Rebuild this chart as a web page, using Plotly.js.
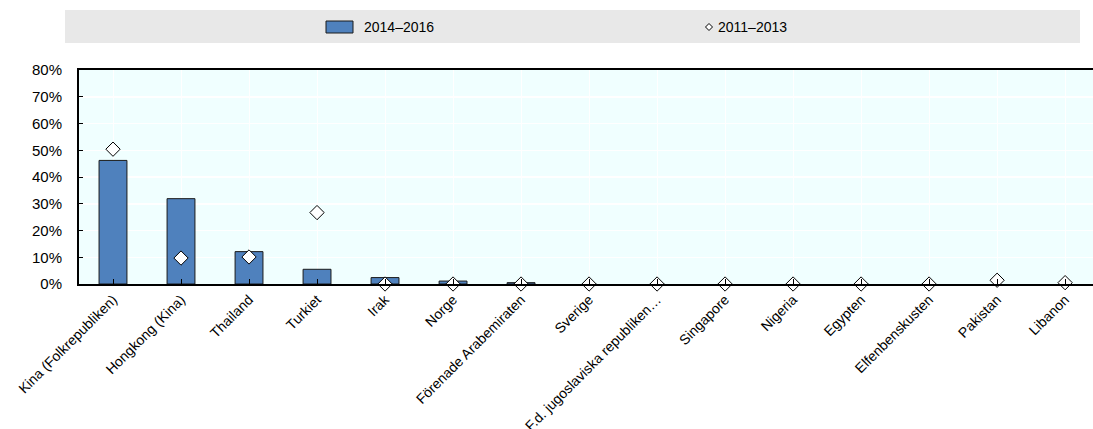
<!DOCTYPE html>
<html>
<head>
<meta charset="utf-8">
<script src="https://cdn.plot.ly/plotly-3.0.1.min.js"></script>
<style>html,body{margin:0;padding:0;background:#fff;}#chart{width:1093px;height:429px;}</style>
</head>
<body>
<div id="chart"></div>
<script>
const categories = ["Kina (Folkrepubliken)", "Hongkong (Kina)", "Thailand", "Turkiet", "Irak", "Norge", "Förenade Arabemiraten", "Sverige", "F.d. jugoslaviska republiken…", "Singapore", "Nigeria", "Egypten", "Elfenbenskusten", "Pakistan", "Libanon"];
const values2014_2016 = [46.2, 31.9, 12.1, 5.5, 2.4, 1.1, 0.5, 0, 0, 0, 0, 0, 0, 0, 0];
const values2011_2013 = [50.4, 9.7, 10.1, 26.7, 0, 0, 0, 0, 0, 0, 0, 0, 0, 1.4, 0.5];
const yTicks = [0, 10, 20, 30, 40, 50, 60, 70, 80];
const seriesNames = ["2014–2016", "2011–2013"];

const FONT = "Liberation Sans, Arial, sans-serif";
const FS = 14;
const xs = categories.map((c, i) => i);

const traces = [
  {
    type: "bar", x: xs, y: values2014_2016, name: seriesNames[0], width: 0.41,
    marker: {color: "#4F81BD", line: {color: "#1a1a1a", width: values2014_2016.map(v => v > 0 ? 1 : 0)}},
    showlegend: false, hoverinfo: "y"
  },
  {
    type: "scatter", mode: "markers", x: xs, y: values2011_2013, name: seriesNames[1],
    marker: {symbol: "diamond", size: 11, color: "#ffffff", line: {color: "#000000", width: 1}},
    showlegend: false, cliponaxis: false, hoverinfo: "y"
  }
];

const layout = {
  width: 1093, height: 429,
  margin: {l: 79, r: 0, t: 70, b: 145, pad: 0},
  paper_bgcolor: "#ffffff", plot_bgcolor: "#F0FFFF",
  font: {family: FONT, size: FS, color: "#000"},
  xaxis: {
    range: [-0.5, 14.41], tickmode: "array", tickvals: xs, ticktext: categories,
    tickangle: -45, ticks: "inside", ticklen: 5, tickcolor: "#000", tickson: "boundaries",
    showgrid: true, gridcolor: "#ffffff", gridwidth: 1,
    showline: true, linecolor: "#000", linewidth: 2, mirror: true,
    tickfont: {family: FONT, size: FS, color: "#000"}, zeroline: false, fixedrange: true
  },
  yaxis: {
    range: [0, 80], tickmode: "array", tickvals: yTicks, ticktext: yTicks.map(v => v + "%"),
    ticks: "inside", ticklen: 4, tickcolor: "#000", ticklabelstandoff: 12,
    showgrid: true, gridcolor: "#ffffff", gridwidth: 1.5,
    showline: true, linecolor: "#000", linewidth: 2,
    tickfont: {family: FONT, size: 15, color: "#000"}, zeroline: false, fixedrange: true
  },
  shapes: [
    {type: "rect", xref: "paper", yref: "paper", x0: (65-79)/1014, x1: (1080-79)/1014, y0: (429-145-43)/214, y1: (429-145-10)/214,
     fillcolor: "#E8E8E8", line: {width: 0}, layer: "below"},
    {type: "rect", xref: "paper", yref: "paper", x0: (326-79)/1014, x1: (353-79)/1014, y0: (284-33)/214, y1: (284-21)/214,
     fillcolor: "#4F81BD", line: {color: "#1a1a1a", width: 1}}
  ],
  annotations: [
    {xref: "paper", yref: "paper", x: (362-79)/1014, y: (284-27)/214, xanchor: "left", yanchor: "middle",
     text: seriesNames[0], showarrow: false, font: {family: FONT, size: FS, color: "#000"}},
    {xref: "paper", yref: "paper", x: (716-79)/1014, y: (284-27)/214, xanchor: "left", yanchor: "middle",
     text: seriesNames[1], showarrow: false, font: {family: FONT, size: FS, color: "#000"}}
  ]
};

(function(){
  const cx = (709-79)/1014, cy = (284-27)/214, dx = 3.5/1014, dy = 3.5/214;
  layout.shapes.push({type: "path", xref: "paper", yref: "paper",
    path: `M ${cx-dx} ${cy} L ${cx} ${cy+dy} L ${cx+dx} ${cy} L ${cx} ${cy-dy} Z`,
    fillcolor: "#ffffff", line: {color: "#000", width: 1}});
})();

Plotly.newPlot("chart", traces, layout, {displayModeBar: false, staticPlot: true});
</script>
</body>
</html>
